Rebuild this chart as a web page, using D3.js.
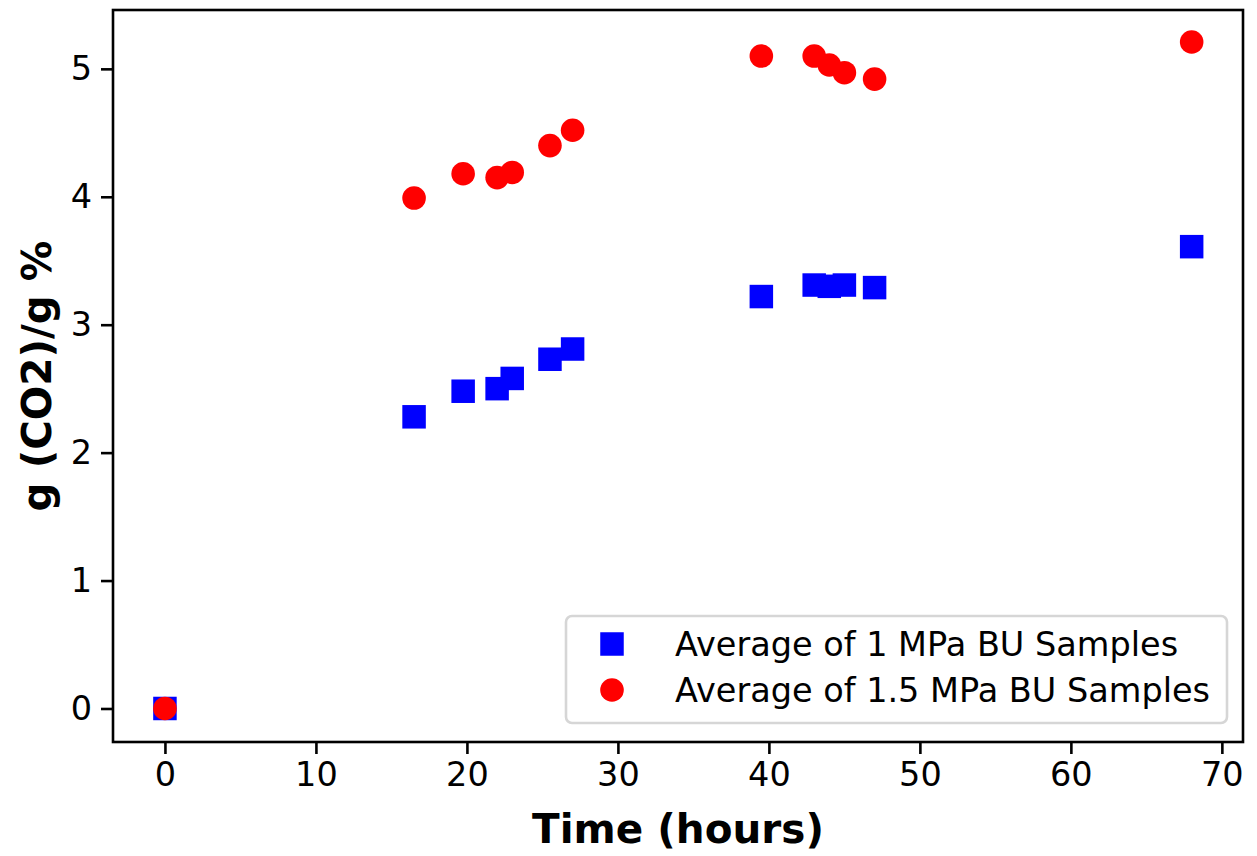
<!DOCTYPE html>
<html>
<head>
<meta charset="utf-8">
<script src="https://cdn.jsdelivr.net/npm/d3@7"></script>
<style>
  html, body { margin: 0; padding: 0; background: #ffffff; }
  svg { display: block; font-family: "DejaVu Sans", sans-serif; }
</style>
</head>
<body>
<svg id="chart" width="1257" height="856"></svg>
<script>
// Elapsed time (hours) at each sampling point
const timeHours = [0, 16.5, 19.75, 22, 23, 25.5, 27, 39.5, 43, 44, 45, 47, 68];
// CO2 uptake, g(CO2)/g %
const uptake1MPa = [0, 2.28, 2.48, 2.50, 2.58, 2.73, 2.81, 3.22, 3.31, 3.30, 3.31, 3.29, 3.61];
const uptake15MPa = [0, 3.99, 4.18, 4.15, 4.19, 4.40, 4.52, 5.10, 5.10, 5.03, 4.97, 4.92, 5.21];

const xTicks = [0, 10, 20, 30, 40, 50, 60, 70];
const yTicks = [0, 1, 2, 3, 4, 5];
const seriesNames = ["Average of 1 MPa BU Samples", "Average of 1.5 MPa BU Samples"];

const W = 1257, H = 856;
const plot = { left: 113, right: 1243, top: 10, bottom: 742 };

const svg = d3.select("#chart");

const x = d3.scaleLinear().domain([-3.44, 71.4]).range([plot.left, plot.right]);
const y = d3.scaleLinear().domain([-0.262, 5.46]).range([plot.bottom, plot.top]);

const tickFont = 33.5;
const lineW = 2.6;

// Axes
const xAxis = svg.append("g")
  .attr("transform", `translate(0,${plot.bottom})`)
  .call(d3.axisBottom(x).tickValues(xTicks).tickSize(12).tickPadding(8).tickFormat(d3.format("d")));
const yAxis = svg.append("g")
  .attr("transform", `translate(${plot.left},0)`)
  .call(d3.axisLeft(y).tickValues(yTicks).tickSize(12).tickPadding(9).tickFormat(d3.format("d")));

[xAxis, yAxis].forEach(g => {
  g.select(".domain").remove();
  g.selectAll(".tick line").attr("stroke", "#000").attr("stroke-width", lineW);
  g.selectAll(".tick text")
    .attr("fill", "#000")
    .style("font-size", tickFont + "px")
    .style("font-family", "'DejaVu Sans', sans-serif");
});

// Frame around the plotting area
svg.append("rect")
  .attr("x", plot.left).attr("y", plot.top)
  .attr("width", plot.right - plot.left).attr("height", plot.bottom - plot.top)
  .attr("fill", "none").attr("stroke", "#000").attr("stroke-width", lineW);

// Axis titles
svg.append("text")
  .attr("x", (plot.left + plot.right) / 2).attr("y", 843)
  .attr("text-anchor", "middle")
  .style("font-size", "40.5px").style("font-weight", "bold")
  .text("Time (hours)");

svg.append("text")
  .attr("transform", `translate(51,${(plot.top + plot.bottom) / 2}) rotate(-90)`)
  .attr("text-anchor", "middle")
  .style("font-size", "40.5px").style("font-weight", "bold")
  .text("g (CO2)/g %");

// Markers
const side = 23.5;
const radius = 11.8;
const series1 = timeHours.map((t, i) => ({ t, v: uptake1MPa[i] }));
const series2 = timeHours.map((t, i) => ({ t, v: uptake15MPa[i] }));

svg.append("g").selectAll("rect")
  .data(series1).join("rect")
  .attr("x", d => x(d.t) - side / 2)
  .attr("y", d => y(d.v) - side / 2)
  .attr("width", side).attr("height", side)
  .attr("fill", "#0000ff");

svg.append("g").selectAll("circle")
  .data(series2).join("circle")
  .attr("cx", d => x(d.t))
  .attr("cy", d => y(d.v))
  .attr("r", radius)
  .attr("fill", "#ff0000");

// Legend
const lg = svg.append("g");
lg.append("rect")
  .attr("x", 566).attr("y", 616)
  .attr("width", 661).attr("height", 107)
  .attr("rx", 6).attr("ry", 6)
  .attr("fill", "#ffffff").attr("fill-opacity", 0.8)
  .attr("stroke", "#d6d6d6").attr("stroke-width", 2.6);

const rowY = [644, 690];
lg.append("rect")
  .attr("x", 612 - side / 2).attr("y", rowY[0] - side / 2)
  .attr("width", side).attr("height", side)
  .attr("fill", "#0000ff");
lg.append("circle")
  .attr("cx", 612).attr("cy", rowY[1]).attr("r", radius)
  .attr("fill", "#ff0000");

seriesNames.forEach((name, i) => {
  lg.append("text")
    .attr("x", 675).attr("y", rowY[i])
    .attr("dy", "0.36em")
    .style("font-size", tickFont + "px")
    .text(name);
});
</script>
</body>
</html>
